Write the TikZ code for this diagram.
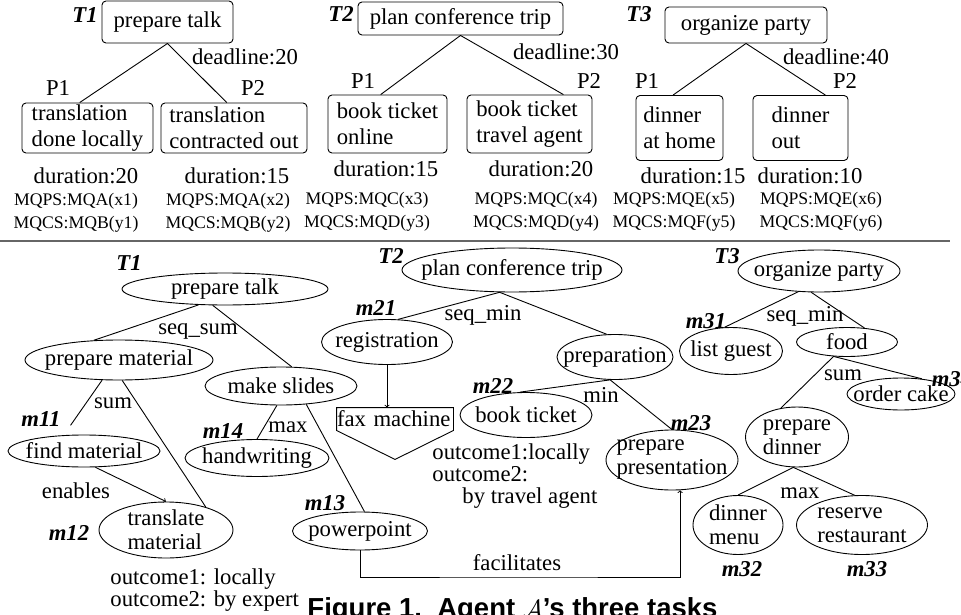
\documentclass[tikz,border=0pt]{standalone}
\usepackage{fontspec}
\setmainfont{Liberation Serif}
\newfontfamily\capsans{Liberation Sans}
\usetikzlibrary{shapes.geometric}

\newcommand\nodefont{\fontsize{22.7pt}{26pt}\selectfont}
\newcommand\notefont{\fontsize{17.7pt}{20pt}\selectfont}
\newcommand\outfont{\fontsize{22.7pt}{22pt}\selectfont}

\tikzset{
	plan/.style={draw, rounded corners=4pt, align=left, inner xsep=3pt, inner ysep=1pt},
	meth/.style 2 args={draw, ellipse, align=left, inner xsep=-15pt, inner ysep=-3pt,
		minimum width=#1pt, minimum height=#2pt, font=\fontsize{22.7pt}{24pt}\selectfont},
	tag/.style={anchor=base, font=\nodefont\bfseries\itshape},
	lbl/.style={anchor=base},
	note/.style={anchor=base, font=\notefont},
	outc/.style={anchor=north west, inner sep=0pt, align=left, font=\outfont}
}

\begin{document}
\begin{tikzpicture}[x=1pt, y=-1pt, line width=0.9pt, font=\nodefont]
	\useasboundingbox (0,0) rectangle (961,615);

	\node[plan, minimum width=131pt, minimum height=42pt] (talkp) at (167.5,22) {prepare talk};
	\node[plan, minimum width=131pt, minimum height=50pt] (loc) at (87.5,128) {translation\\done locally};
	\node[plan, minimum width=146pt, minimum height=50pt] (outs) at (234,128) {translation\\contracted out};
	\node[plan, minimum width=205pt, minimum height=33pt] (tripp) at (460.5,18.5) {plan conference trip};
	\node[plan, minimum width=119pt, minimum height=58pt] (online) at (387.5,124) {book ticket\\online};
	\node[plan, minimum width=125pt, minimum height=58pt] (agent) at (529.5,124) {book ticket\\travel agent};
	\node[plan, minimum width=162pt, minimum height=36pt] (partyp) at (746,25) {organize party};
	\node[plan, minimum width=87pt, minimum height=65pt] (home) at (679.5,128) {dinner\\at home};
	\node[plan, minimum width=95pt, minimum height=65pt] (dout) at (800.5,128) {dinner\\out};

	\draw (talkp.south) -- (loc.107) (talkp.south) -- (outs.106);
	\draw (tripp.south) -- (online.103) (tripp.south) -- (agent.41);
	\draw (partyp.south) -- (home.101) (partyp.south) -- (dout.53);

	\foreach \n/\x/\y in {T1/85/23, T2/341/22, T3/639/22}
		\node[tag] (top\n) at (\x,\y) {\n};
	\foreach \i/\x/\y/\d in {1/245/65/20, 2/566/60/30, 3/836/65/40}
		\node[lbl] (dl\i) at (\x,\y) {deadline:\d};
	\foreach \i/\x/\y/\p in {a/58/96/1, b/253/96/2, c/363/89/1, d/589/89/2, e/647/89/1, f/845/89/2}
		\node[lbl] (p\i) at (\x,\y) {P\p};
	\foreach \i/\x/\y/\d in {1/86/183/20, 2/237/183/15, 3/386/176/15, 4/541/176/20, 5/693/183/15, 6/810/183/10}
		\node[lbl] (dur\i) at (\x,\y) {duration:\d};
	\foreach \i/\x/\y/\p/\c in {1/76/205/A/B, 2/228/205/A/B, 3/367/204/C/D, 4/536/204/C/D, 5/674/204/E/F, 6/821/204/E/F}
		\node[note] (mqp\i) at (\x,\y) {MQPS:MQ\p(x\i)}
		node[note] (mqc\i) at (\x,\y+23) {MQCS:MQ\c(y\i)};

	\draw[black!60, line width=1.6pt] (0,241) -- (950,241);

	\node[meth={206}{32}] (talk) at (225,289) {prepare talk};
	\node[meth={188}{40}] (pmat) at (119,360) {prepare material};
	\node[meth={152}{38}] (slides) at (281,386) {make slides};
	\node[meth={152}{32}] (find) at (84,451) {find material};
	\node[meth={144}{37}] (hand) at (257,458) {handwriting};
	\node[meth={134}{56}] (trans) at (166,530) {translate\\material};
	\node[meth={135}{38}] (ppt) at (360,531) {powerpoint};
	\node[meth={220}{44}] (trip) at (512,270) {plan conference trip};
	\node[meth={131}{45}] (reg) at (387,342) {registration};
	\node[meth={116}{45}] (prep) at (615,357) {preparation};
	\node[meth={132}{45}] (book) at (526,415) {book ticket};
	\node[meth={132}{60}] (pres) at (672,460) {prepare\\presentation};
	\node[meth={162}{42}] (party) at (819,271) {organize party};
	\node[meth={103}{47}] (guest) at (731,351) {list guest};
	\node[meth={101}{29}] (food) at (847,342) {food};
	\node[meth={108}{32}] (cake) at (901,394) {order cake};
	\node[meth={103}{60}] (dinner) at (797,437) {prepare\\dinner};
	\node[meth={90}{59}] (menu) at (738,525) {dinner\\menu};
	\node[meth={131}{59}] (rest) at (862,525) {reserve\\restaurant};

	\node[inner sep=0pt, minimum width=116pt, minimum height=22pt, text width=116pt, align=left] (fax) at (395,419) {fax machine};
	\draw (fax.north west) -- (fax.north east) -- (fax.south east) -- ([yshift=-29pt]fax.south) -- (fax.south west) -- cycle;
	\coordinate (fbase) at (517,577);

	\draw (talk.-149) -- (pmat.142) (talk.-127) -- (slides.61);
	\draw[shorten >=12pt] (pmat.-130) -- (find.142);
	\draw (pmat.-81) -- (trans.30);
	\draw (slides.-102) -- (hand.north) (slides.-36) -- (ppt.77);
	\draw[->] (find.-55) -- (trans.north);
	\draw (trip.-119) -- (reg.64) (trip.-119) -- (prep.110);
	\draw[->] (reg.south) -- (reg.south |- fax.north);
	\draw (prep.-102) -- (book.105) (prep.-102) -- (pres.north);
	\draw[->] (ppt.south) |- (fbase) -| (pres.-75);
	\draw (party.-135) -- (guest.105) (party.-110) -- (food.39);
	\draw (food.-133) -- (dinner.119) (food.-133) -- (cake.36);
	\draw (dinner.-97) -- (menu.north) (dinner.-97) -- (rest.104);

	\foreach \n/\x/\y in {T1/129/270, T2/391/263, T3/727/263, m11/41/426, m12/69/540, m13/325/510, m14/223/438,
		m21/376/315, m22/493/393, m23/691/430, m31/706/328, m32/742/576, m33/867/576}
		\node[tag] (\n) at (\x,\y) {\n};
	\node[tag, anchor=base west] (m34) at (928,386) {m34};

	\foreach \i/\x/\y/\t in {sqa/198/334/seq\_sum, sma/113/408/sum, mxa/288/432/max, enb/76/498/enables,
		sqb/483/320/seq\_min, mna/601/402/min, fac/517/570/facilitates, sqc/805/321/seq\_min,
		smb/843/380/sum, mxb/800/498/max}
		\node[lbl] (\i) at (\x,\y) {\t};

	\node[outc] (out1) at (110,568.5) {outcome1: locally\\outcome2: by expert};
	\node[outc] (out2) at (432,443.5) {outcome1:locally\\outcome2:\\\hspace*{30pt}by travel agent};

	\node[anchor=base west, inner sep=0pt, font=\capsans\fontsize{27.5pt}{30pt}\selectfont\bfseries] (cap) at (307,617)
		{Figure 1.\ \ Agent $\mathcal{A}$’s three tasks};
\end{tikzpicture}
\end{document}
